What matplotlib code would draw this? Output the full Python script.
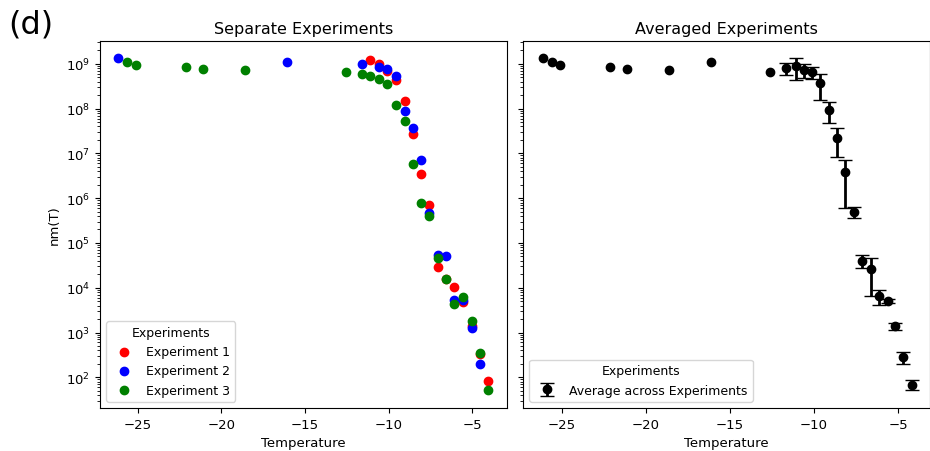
import numpy as np
import matplotlib
matplotlib.use("Agg")
import matplotlib.pyplot as plt

# Separate experiments (temperature, nm(T))
exp1_T = [-11.10, -10.56, -10.08, -9.58, -9.04, -8.56, -8.07, -7.59, -7.07, -6.57,
          -6.09, -5.54, -5.04, -4.54, -4.04]
exp1_n = [1.24e9, 0.98e9, 0.69e9, 0.44e9, 1.45e8, 2.67e7, 3.55e6, 7.0e5, 2.95e4, 1.55e4,
          1.02e4, 4.9e3, 1.4e3, 330, 81]

exp2_T = [-26.16, -16.06, -11.59, -10.56, -10.08, -9.58, -9.04, -8.56, -8.07, -7.59,
          -7.07, -6.57, -6.09, -5.54, -5.04, -4.54]
exp2_n = [1.33e9, 1.10e9, 0.97e9, 0.84e9, 0.76e9, 0.53e9, 8.7e7, 3.6e7, 7.0e6, 4.6e5,
          5.4e4, 5.2e4, 5.2e3, 5.3e3, 1.26e3, 198]

exp3_T = [-25.62, -25.12, -22.13, -21.10, -18.60, -12.55, -11.59, -11.10, -10.56, -10.08,
          -9.58, -9.04, -8.56, -8.07, -7.59, -7.07, -6.57, -6.09, -5.54, -5.04, -4.54, -4.04]
exp3_n = [1.12e9, 0.96e9, 0.84e9, 0.77e9, 0.73e9, 0.66e9, 0.60e9, 0.545e9, 0.45e9, 0.36e9,
          0.119e9, 5.4e7, 5.8e6, 8.0e5, 3.9e5, 4.5e4, 1.55e4, 4.4e3, 6.1e3, 1.79e3, 349, 53]

# Averaged across experiments (nan = single measurement, no error bar)
avg_T = [-26.12, -25.58, -25.07, -22.12, -21.10, -18.61, -16.12, -12.61, -11.66, -11.08,
         -10.61, -10.13, -9.64, -9.11, -8.61, -8.16, -7.60, -7.16, -6.63, -6.13,
         -5.58, -5.18, -4.69, -4.19]
avg_n = [1.35e9, 1.10e9, 0.96e9, 0.84e9, 0.76e9, 0.72e9, 1.10e9, 0.66e9, 0.80e9, 0.88e9,
         0.74e9, 0.65e9, 0.374e9, 9.5e7, 2.25e7, 3.79e6, 5.0e5, 4.0e4, 2.6e4, 6.45e3,
         5.1e3, 1.38e3, 280, 68]
avg_err = [np.nan] * 8 + [0.23e9, 0.45e9,
           0.25e9, 0.20e9, 0.216e9, 4.7e7, 1.43e7, 3.2e6, 1.35e5, 1.3e4, 1.95e4, 2.4e3,
           0.6e3, 0.27e3, 80, 17]

plt.rcParams["font.size"] = 9.5
plt.rcParams["axes.titlesize"] = 11.5
plt.rcParams["legend.fontsize"] = 9
plt.rcParams["legend.title_fontsize"] = 9

fig = plt.figure(figsize=(9.3, 4.52), dpi=100)
ax1 = fig.add_axes([100 / 930, 43 / 452, 407 / 930, 367 / 452])
ax2 = fig.add_axes([523 / 930, 43 / 452, 407 / 930, 367 / 452], sharey=ax1)

ax1.scatter(exp1_T, exp1_n, color="red", label="Experiment 1")
ax1.scatter(exp2_T, exp2_n, color="blue", label="Experiment 2")
ax1.scatter(exp3_T, exp3_n, color="green", label="Experiment 3")
ax1.set_yscale("log")
ax1.set_ylim(20.6, 3.24e9)
ax1.set_xlim(-27.25, -2.93)
ax1.set_title("Separate Experiments")
ax1.set_xlabel("Temperature")
ax1.set_ylabel("nm(T)")
ax1.legend(title="Experiments", loc="lower left")

ax2.errorbar(avg_T, avg_n, yerr=avg_err, fmt="o", color="black", capsize=5,
             elinewidth=2, label="Average across Experiments")
ax2.set_xlim(-27.29, -3.10)
ax2.tick_params(labelleft=False)
ax2.set_title("Averaged Experiments")
ax2.set_xlabel("Temperature")
ax2.legend(title="Experiments", loc="lower left")

fig.text(8 / 930, 1 - 9 / 452, "(d)", fontsize=23, va="top", ha="left")

fig.savefig("out.png", dpi=100)
